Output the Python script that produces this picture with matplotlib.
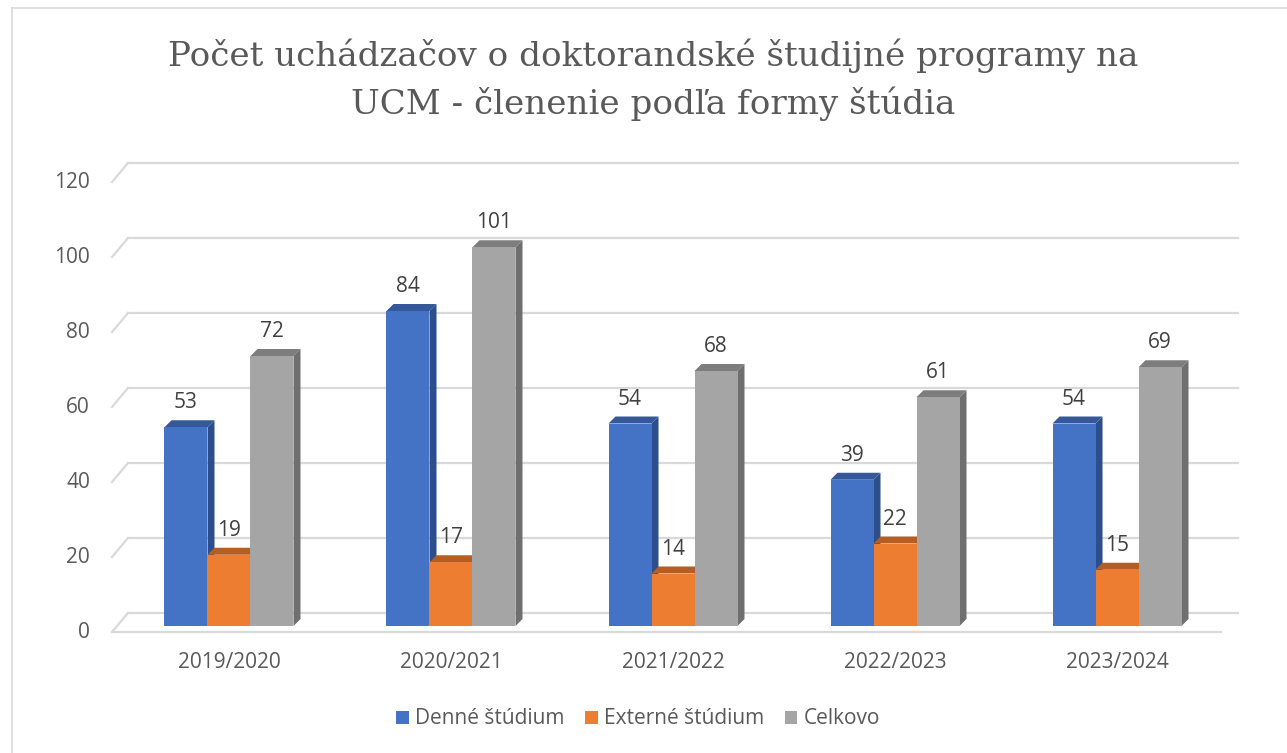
import matplotlib
matplotlib.use("Agg")
import matplotlib.pyplot as plt
from matplotlib.patches import Polygon, Patch
from matplotlib.lines import Line2D
from matplotlib.transforms import blended_transform_factory

# ---- data ----
categories = ["2019/2020", "2020/2021", "2021/2022", "2022/2023", "2023/2024"]
denne = [53, 84, 54, 39, 54]
externe = [19, 17, 14, 22, 15]
celkovo = [72, 101, 68, 61, 69]
series_names = ["Denné štúdium", "Externé štúdium", "Celkovo"]
yticks = [0, 20, 40, 60, 80, 100, 120]
title_lines = ["Počet uchádzačov o doktorandské študijné programy na",
               "UCM - členenie podľa formy štúdia"]

front_colors = ["#4472C4", "#ED7D31", "#A5A5A5"]
side_colors = ["#2D4E8C", "#A9561F", "#6F6F6F"]
top_colors = ["#34589A", "#B65D22", "#7D7D7D"]
text_color = "#595959"
grid_color = "#D9D9D9"

W, H = 1287, 753
fig = plt.figure(figsize=(W / 100, H / 100), dpi=100)
fig.patch.set_facecolor("white")

ax_l, ax_r, ax_t, ax_b = 112, 1238, 163, 632
ax = fig.add_axes([ax_l / W, (H - ax_b) / H, (ax_r - ax_l) / W, (ax_b - ax_t) / H])
ax.set_xlim(-0.527, 4.545)
ax.set_ylim(-1.6, 123.47)
ax.axis("off")

ax_w_px = ax_r - ax_l
ax_h_px = ax_b - ax_t
ppu_x = ax_w_px / (4.545 + 0.527)
ppu_y = ax_h_px / (123.47 + 1.6)

font = "Open Sans"
fs = 15

# ---- walls / gridlines ----
bt = blended_transform_factory(ax.transAxes, ax.transData)
back_dy = 13 / ppu_y
front_dy = 6 / ppu_y
wall_x0 = 16 / ax_w_px
for v in yticks:
    ax.add_line(Line2D([wall_x0, 1.0], [v + back_dy, v + back_dy], transform=bt,
                       color=grid_color, lw=1.6, clip_on=False, zorder=1))
    ax.add_line(Line2D([0, wall_x0], [v - front_dy, v + back_dy], transform=bt,
                       color=grid_color, lw=1.6, clip_on=False, zorder=1))
    ax.text(-22 / ax_w_px, v - front_dy, str(v), transform=bt, ha="right", va="center",
            fontsize=fs, color=text_color, family=font)
ax.add_line(Line2D([0, (1221 - ax_l) / ax_w_px], [-front_dy, -front_dy], transform=bt,
                   color=grid_color, lw=1.6, clip_on=False, zorder=1))

# ---- 3D bars ----
bw = 43 / ppu_x
dxd = 7 / ppu_x
dyd = 7 / ppu_y
all_series = [denne, externe, celkovo]
for i, cat in enumerate(categories):
    for k, vals in enumerate(all_series):
        h = vals[i]
        xl = i + (k - 1.5) * bw
        xr = xl + bw
        z = 3 + k
        ax.add_patch(Polygon([(xr, 0), (xr + dxd, dyd), (xr + dxd, h + dyd), (xr, h)],
                             closed=True, facecolor=side_colors[k], edgecolor="none", zorder=z))
        ax.add_patch(Polygon([(xl, h), (xl + dxd, h + dyd), (xr + dxd, h + dyd), (xr, h)],
                             closed=True, facecolor=top_colors[k], edgecolor="none", zorder=z))
        ax.bar(xl, h, width=bw, align="edge", color=front_colors[k], edgecolor="none", zorder=z)
        ax.text(xl + bw / 2, h + 19 / ppu_y, str(h), ha="center", va="baseline",
                fontsize=fs, color="#404040", family=font, zorder=10)
    ax.text(i, -30 / ax_h_px, cat, transform=blended_transform_factory(ax.transData, ax.transAxes),
            ha="center", va="center", fontsize=fs, color=text_color, family=font)

# ---- title ----
fig.text(653 / W, 1 - 56 / H, title_lines[0], ha="center", va="center", fontsize=24.6,
         color=text_color, family="DejaVu Serif")
fig.text(653 / W, 1 - 104 / H, title_lines[1], ha="center", va="center", fontsize=24.6,
         color=text_color, family="DejaVu Serif")

# ---- legend ----
handles = [Patch(facecolor=c, edgecolor="none") for c in front_colors]
leg = fig.legend(handles, series_names, loc="center", bbox_to_anchor=(638 / W, 1 - 719 / H),
                 ncol=3, frameon=False, handlelength=0.6, handleheight=0.6,
                 handletextpad=0.3, columnspacing=1.0,
                 prop={"family": font, "size": fs})
for t in leg.get_texts():
    t.set_color(text_color)

# ---- border ----
fig.add_artist(Line2D([12 / W, 1], [1 - 8 / H, 1 - 8 / H], transform=fig.transFigure,
                      color=grid_color, lw=1.2))
fig.add_artist(Line2D([12 / W, 12 / W], [0, 1 - 8 / H], transform=fig.transFigure,
                      color=grid_color, lw=1.2))

fig.savefig("out.png", dpi=100, facecolor="white")
